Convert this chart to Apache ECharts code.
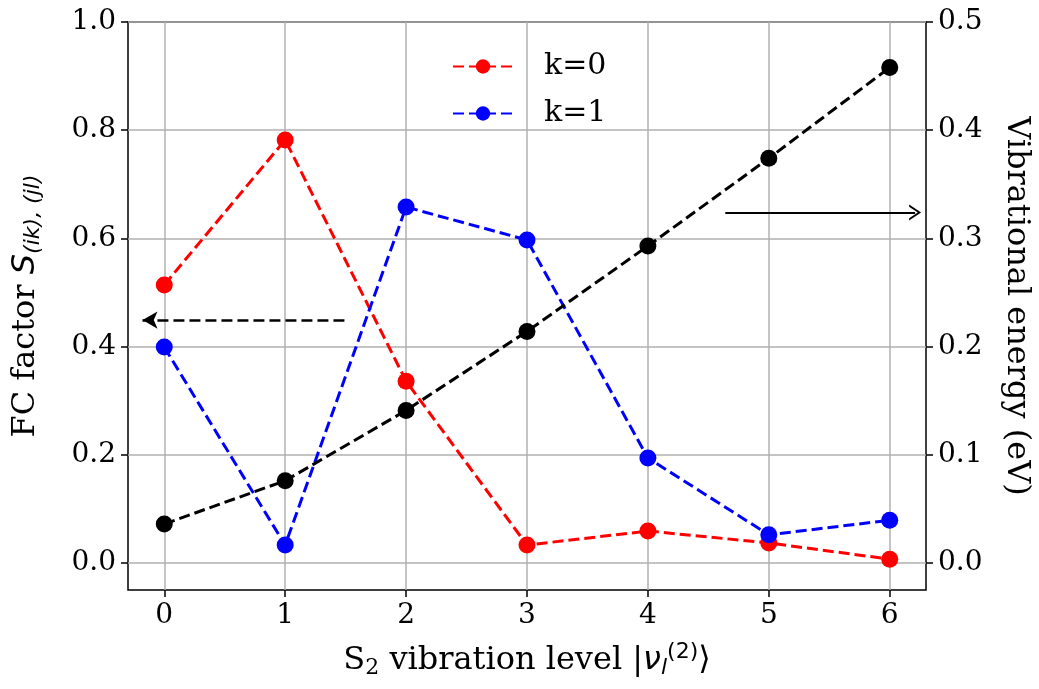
<!DOCTYPE html>
<html lang="en">
<head>
  <meta charset="UTF-8">
  <title>FC factor vs S2 vibration level</title>
  <script src="https://cdn.jsdelivr.net/npm/echarts@6/dist/echarts.min.js"></script>
  <style>
    body { margin: 0; background: #fff; }
  </style>
</head>
<body>
  <div id="main" style="width: 1039px;height:689px;"></div>
  <script>
    // data
    var levels = [0, 1, 2, 3, 4, 5, 6];
    var fcK0 = [0.514, 0.782, 0.336, 0.033, 0.059, 0.037, 0.007];
    var fcK1 = [0.399, 0.033, 0.658, 0.597, 0.194, 0.052, 0.079];
    var energy = [0.036, 0.076, 0.141, 0.214, 0.293, 0.374, 0.458];
    var leftTicks = [0, 0.2, 0.4, 0.6, 0.8, 1.0];
    var rightTicks = [0, 0.1, 0.2, 0.3, 0.4, 0.5];

    var FONT = 'DejaVu Serif';
    var myChart = echarts.init(document.getElementById('main'));

    function pairs(ys) {
      return levels.map(function (x, i) { return [x, ys[i]]; });
    }

    var labelStyle = { fontFamily: FONT, fontSize: 28, color: '#000', margin: 12 };
    var tickStyle = { inside: false, length: 7, lineStyle: { color: '#000', width: 1.5 } };
    var noLine = { show: false, onZero: false };
    var DASH = [11, 5];
    // 開口箭頭 (matplotlib "->")
    var chevron = 'path://M0,10 L5,0 L10,10 L8.6,10 L5,2.8 L1.4,10 Z';

    option = {
      animation: false,
      grid: {
        left: 128, right: 113, top: 22, bottom: 99,
        outerBoundsMode: 'none', containLabel: false,
        show: true, borderColor: '#000', borderWidth: 1.5, backgroundColor: 'transparent'
      },
      legend: {
        orient: 'vertical',
        left: 447, top: 45,
        itemWidth: 60, itemHeight: 18, itemGap: 14,
        textStyle: { fontFamily: FONT, fontSize: 30, lineHeight: 33, color: '#000', padding: [0, 0, 0, 26] },
        data: ['k=0', 'k=1']
      },
      xAxis: {
        type: 'value', min: -0.3, max: 6.3,
        axisLine: noLine,
        axisTick: Object.assign({ customValues: levels }, tickStyle),
        axisLabel: Object.assign({ customValues: levels }, labelStyle, { margin: 12 }),
        splitLine: { show: true, lineStyle: { color: '#b0b0b0', width: 1.5 } },
        name: 'S{sub|2} vibration level |{it|ν}{sub2|l}{sup|(2)}⟩',
        nameLocation: 'middle', nameGap: 51,
        nameTextStyle: {
          fontFamily: FONT, fontSize: 32, color: '#000',
          rich: {
            sub: { fontFamily: FONT, fontSize: 22, color: '#000', padding: [14, 0, 0, 0] },
            it: { fontFamily: 'DejaVu Sans', fontStyle: 'italic', fontSize: 32, color: '#000' },
            sub2: { fontFamily: 'DejaVu Sans', fontStyle: 'italic', fontSize: 22, color: '#000', padding: [14, 0, 0, 0] },
            sup: { fontFamily: 'DejaVu Sans', fontSize: 22, color: '#000', padding: [0, 0, 18, 0] }
          }
        }
      },
      yAxis: [
        {
          type: 'value', min: -0.05, max: 1.0,
          axisLine: noLine,
          axisTick: Object.assign({ customValues: leftTicks }, tickStyle),
          axisLabel: Object.assign({ customValues: leftTicks, formatter: function (v) { return v.toFixed(1); } }, labelStyle),
          splitLine: { show: true, lineStyle: { color: '#b0b0b0', width: 1.5 } },
          name: 'FC factor {it|S}{sub|(ik), (jl)}',
          nameLocation: 'middle', nameGap: 84,
          nameTextStyle: {
            fontFamily: FONT, fontSize: 32, color: '#000',
            rich: {
              it: { fontFamily: 'DejaVu Sans', fontStyle: 'italic', fontSize: 32, color: '#000' },
              sub: { fontFamily: 'DejaVu Sans', fontStyle: 'italic', fontSize: 22, color: '#000', padding: [14, 0, 0, 0] }
            }
          }
        },
        {
          type: 'value', min: -0.025, max: 0.5, position: 'right',
          axisLine: noLine,
          axisTick: Object.assign({ customValues: rightTicks }, tickStyle),
          axisLabel: Object.assign({ customValues: rightTicks, formatter: function (v) { return v.toFixed(1); } }, labelStyle),
          splitLine: { show: false },
          name: 'Vibrational energy (eV)',
          nameLocation: 'middle', nameGap: 74, nameRotate: -90,
          nameTextStyle: { fontFamily: FONT, fontSize: 32, color: '#000' }
        }
      ],
      series: [
        {
          name: 'k=0', type: 'line', yAxisIndex: 0,
          data: pairs(fcK0),
          symbol: 'circle', symbolSize: 17,
          itemStyle: { color: '#ff0000' },
          lineStyle: { color: '#ff0000', width: 3, type: DASH },
          // 左向虛線箭頭
          markLine: {
            silent: true, symbol: ['none', 'arrow'], symbolSize: [13, 15],
            label: { show: false },
            lineStyle: { color: '#000', width: 2.5, type: DASH },
            data: [[{ coord: [1.49, 0.449] }, { coord: [-0.18, 0.449] }]]
          }
        },
        {
          name: 'k=1', type: 'line', yAxisIndex: 0,
          data: pairs(fcK1),
          symbol: 'circle', symbolSize: 17,
          itemStyle: { color: '#0000ff' },
          lineStyle: { color: '#0000ff', width: 3, type: DASH }
        },
        {
          name: 'energy', type: 'line', yAxisIndex: 1,
          data: pairs(energy),
          symbol: 'circle', symbolSize: 17,
          itemStyle: { color: '#000' },
          lineStyle: { color: '#000', width: 3, type: DASH },
          // 右向實線箭頭
          markLine: {
            silent: true, symbol: ['none', chevron], symbolSize: [16, 12],
            label: { show: false },
            lineStyle: { color: '#000', width: 2, type: 'solid' },
            data: [[{ coord: [4.64, 0.324] }, { coord: [6.21, 0.324] }]]
          }
        }
      ]
    };

    myChart.setOption(option);
  </script>
</body>
</html>
